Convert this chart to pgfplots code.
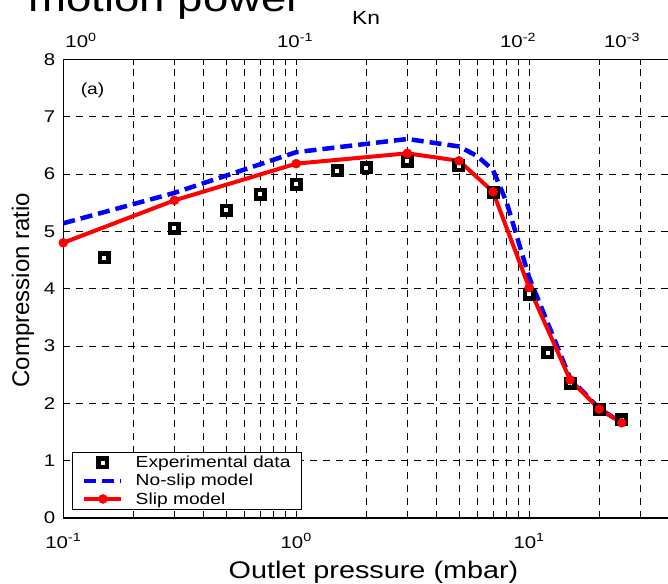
\documentclass[border=0pt]{standalone}
\usepackage{pgfplots}
\pgfplotsset{compat=1.18}
\usepackage{fontspec}
\setmainfont{Liberation Sans}[FakeStretch=1.2]
\newfontfamily\plainsans{Liberation Sans}

\begin{document}
\begin{tikzpicture}[x=1pt,y=1pt]
\useasboundingbox (0,0) rectangle (668,583);

% headline left over from the slide
\node[anchor=base west, inner sep=0pt, font=\fontsize{38}{38}\selectfont] at (28,571) {motion power};

\begin{axis}[
  at={(63.3pt,65pt)}, anchor=south west,
  scale only axis, width=606pt, height=458.7pt,
  xmode=log, log basis x=10,
  xmin=0.1, xmax=40, ymin=0, ymax=8,
  xtick={0.1,1,10},
  xticklabels={10\textsuperscript{-1},10\textsuperscript{0},10\textsuperscript{1}},
  minor xtick={0.2,0.3,0.4,0.5,0.6,0.7,0.8,0.9,2,3,4,5,6,7,8,9,20,30},
  ytick={0,1,2,3,4,5,6,7,8},
  yticklabels={0,1,2,3,4,5,6,7,8},
  grid=both,
  major grid style={black, line width=0.6pt, dash pattern=on 7pt off 6pt},
  minor grid style={black, line width=0.6pt, dash pattern=on 7pt off 6pt},
  tick align=inside, major tick length=6pt, minor tick length=6pt,
  tick style={black, line width=0.8pt},
  axis line style={black, line width=1.3pt},
  ticklabel style={font=\fontsize{17}{17}\selectfont},
  xticklabel style={anchor=base, inner sep=0pt, yshift=-30pt},
  yticklabel style={anchor=east, inner sep=0pt, xshift=-8pt},
  clip=false,
  legend image code/.code={\draw[mark repeat=2,mark phase=2,#1] plot coordinates {(0pt,0pt) (18.5pt,0pt) (37pt,0pt)};},
  legend cell align=left,
  legend style={at={(axis description cs:0.0139,0.0174)}, anchor=south west,
    draw=black, line width=1pt, fill=white,
    font=\fontsize{16}{18}\selectfont,
    inner xsep=10pt, inner ysep=3pt, row sep=3pt,
    nodes={inner sep=1pt},
    /tikz/every odd column/.append style={column sep=11pt}},
]

% measured compression ratio
\addplot[only marks, mark=square*, mark size=4.25pt,
  mark options={draw=black, fill=white, line width=4.5pt}]
  coordinates {(0.15,4.54) (0.3,5.05) (0.5,5.37) (0.7,5.65) (1,5.82)
    (1.5,6.06) (2,6.11) (3,6.22) (5,6.14) (7,5.67) (10,3.90)
    (12,2.88) (15,2.35) (20,1.90) (25,1.71)};
\addlegendentry{Experimental data}

% continuum model without slip
\addplot[blue, line width=4.5pt, dash pattern=on 12pt off 6pt, no marks]
  coordinates {(0.1,5.14) (0.3,5.67) (1,6.38) (3,6.61) (5,6.48) (6,6.31)
    (7,6.07) (8,5.51) (10,4.20) (15,2.44) (20,1.91) (25,1.66)};
\addlegendentry{No-slip model}

% model with slip boundary condition
\addplot[red, line width=4pt, mark=*, mark size=4.5pt, mark options={solid, fill=red, line width=0.5pt}]
  coordinates {(0.1,4.80) (0.3,5.54) (1,6.18) (3,6.36) (5,6.23) (7,5.69)
    (10,4.02) (15,2.41) (20,1.90) (25,1.66)};
\addlegendentry{Slip model}

\end{axis}

% Knudsen number scale along the top edge
\begin{scope}[every node/.style={anchor=base, inner sep=0pt, font=\fontsize{17}{17}\selectfont}]
  \node at (81,535) {10\textsuperscript{0}};
  \node at (295,535) {10\textsuperscript{-1}};
  \node at (518,535) {10\textsuperscript{-2}};
  \node at (622,535) {10\textsuperscript{-3}};
\end{scope}
\node[anchor=base, inner sep=0pt, font=\fontsize{19}{19}\selectfont] at (366,558) {Kn};

\node[anchor=center, inner sep=0pt, font=\fontsize{16}{16}\selectfont] at (92.5,493) {(a)};

\node[anchor=base, inner sep=0pt, font=\fontsize{24}{24}\selectfont] at (373.5,5) {Outlet pressure (mbar)};
\node[rotate=90, anchor=center, inner sep=0pt, font=\plainsans\fontsize{24}{24}\selectfont] at (23,293) {Compression ratio};

\end{tikzpicture}
\end{document}
